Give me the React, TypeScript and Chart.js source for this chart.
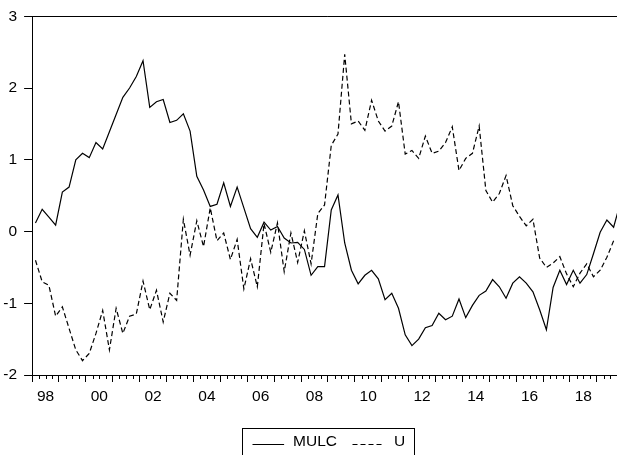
import React, { useEffect, useRef } from "react";
import { Chart, registerables } from "chart.js";

Chart.register(...registerables);

const startYear = 1998;

const mulc = [
  0.12, 0.31, 0.20, 0.09, 0.55, 0.62, 1.00, 1.09, 1.03, 1.24, 1.15, 1.39,
  1.63, 1.87, 2.00, 2.16, 2.38, 1.73, 1.81, 1.84, 1.52, 1.55, 1.64, 1.40,
  0.77, 0.58, 0.35, 0.38, 0.68, 0.35, 0.62, 0.33, 0.04, -0.08, 0.13, 0.02,
  0.07, -0.09, -0.16, -0.15, -0.25, -0.61, -0.49, -0.49, 0.30, 0.51, -0.16, -0.54,
  -0.73, -0.61, -0.54, -0.66, -0.95, -0.86, -1.07, -1.44, -1.59, -1.50, -1.34, -1.31,
  -1.14, -1.23, -1.18, -0.94, -1.20, -1.03, -0.89, -0.83, -0.67, -0.77, -0.93, -0.72,
  -0.63, -0.72, -0.84, -1.09, -1.37, -0.78, -0.54, -0.74, -0.54, -0.72, -0.60, -0.31,
  -0.01, 0.16, 0.06, 0.40,
];

const u = [
  -0.40, -0.70, -0.75, -1.18, -1.05, -1.35, -1.65, -1.80, -1.70, -1.42, -1.10, -1.65,
  -1.07, -1.42, -1.18, -1.15, -0.69, -1.09, -0.82, -1.26, -0.86, -0.96, 0.17, -0.33,
  0.15, -0.21, 0.33, -0.13, -0.02, -0.39, -0.11, -0.80, -0.38, -0.77, 0.11, -0.29,
  0.12, -0.56, -0.02, -0.43, 0.01, -0.45, 0.25, 0.37, 1.20, 1.36, 2.47, 1.50,
  1.54, 1.41, 1.83, 1.54, 1.40, 1.47, 1.81, 1.08, 1.13, 1.02, 1.33, 1.09,
  1.12, 1.24, 1.46, 0.85, 1.02, 1.09, 1.47, 0.57, 0.41, 0.53, 0.78, 0.36,
  0.21, 0.08, 0.17, -0.37, -0.50, -0.44, -0.35, -0.59, -0.77, -0.58, -0.45, -0.63,
  -0.54, -0.36, -0.13, null,
];

const xTickYears = [1998, 2000, 2002, 2004, 2006, 2008, 2010, 2012, 2014, 2016, 2018];
const xTickLabels = ["98", "00", "02", "04", "06", "08", "10", "12", "14", "16", "18"];
const yTicks = [-2, -1, 0, 1, 2, 3];
const seriesNames = ["MULC", "U"];

const FONT = '"Liberation Sans", Arial, sans-serif';
const FS = 15.5;

const qx = mulc.map((_, i) => startYear + i / 4 + 0.125);

const decorPlugin = {
  id: "decor",
  afterDraw(chart: any) {
    const { ctx, chartArea: a } = chart;
    const x = chart.scales.x;
    ctx.save();
    ctx.strokeStyle = "#000";
    ctx.lineWidth = 1;
    // top border
    ctx.beginPath();
    ctx.moveTo(a.left, Math.round(a.top) + 0.5);
    ctx.lineTo(a.right, Math.round(a.top) + 0.5);
    ctx.stroke();
    // minor quarter ticks
    ctx.beginPath();
    for (const t of x.ticks) {
      if (t.value % 1 !== 0) {
        const px = Math.round(x.getPixelForValue(t.value)) + 0.5;
        ctx.moveTo(px, a.bottom);
        ctx.lineTo(px, a.bottom + 4);
      }
    }
    ctx.stroke();
    // legend
    const cx = (a.left + a.right) / 2;
    const w = 171.6;
    const left = Math.round(cx - w / 2) + 0.5;
    const top = 428.5;
    ctx.strokeRect(left, top, Math.round(w), 30);
    const ly = 444.5;
    ctx.lineWidth = 1.2;
    ctx.beginPath();
    ctx.moveTo(left + 10, ly);
    ctx.lineTo(left + 41.6, ly);
    ctx.stroke();
    ctx.setLineDash([5, 3]);
    ctx.beginPath();
    ctx.moveTo(left + 110, ly);
    ctx.lineTo(left + 140.6, ly);
    ctx.stroke();
    ctx.setLineDash([]);
    ctx.fillStyle = "#000";
    ctx.font = `${FS}px ${FONT}`;
    ctx.textBaseline = "middle";
    ctx.textAlign = "left";
    ctx.fillText(seriesNames[0], left + 50.6, 442);
    ctx.fillText(seriesNames[1], left + 151.6, 442);
    ctx.restore();
  },
};

export default function App() {
  const ref = useRef<HTMLCanvasElement>(null);
  useEffect(() => {
    const canvas = ref.current!;
    const chart = new Chart(canvas, {
      type: "line",
      data: {
        datasets: [
          {
            label: seriesNames[0],
            data: mulc.map((v, i) => ({ x: qx[i], y: v })),
            borderColor: "#000",
            borderWidth: 1.2,
            pointRadius: 0,
            tension: 0,
            fill: false,
          },
          {
            label: seriesNames[1],
            data: u.map((v, i) => ({ x: qx[i], y: v })),
            borderColor: "#000",
            borderWidth: 1.2,
            borderDash: [5, 3],
            pointRadius: 0,
            tension: 0,
            fill: false,
          },
        ],
      },
      options: {
        animation: false,
        responsive: false,
        devicePixelRatio: 1,
        layout: { padding: { top: 15, right: 16.3, bottom: 50, left: 0 } },
        plugins: { legend: { display: false }, tooltip: { enabled: false } },
        scales: {
          x: {
            type: "linear",
            min: 1998,
            max: 2020,
            afterBuildTicks: (scale: any) => {
              const ticks = [];
              for (let k = 0; k <= (2020 - 1998) * 4; k++) ticks.push({ value: 1998 + k / 4 });
              scale.ticks = ticks;
            },
            afterFit: (scale: any) => {
              scale.height = 30;
            },
            ticks: {
              autoSkip: false,
              maxRotation: 0,
              minRotation: 0,
              padding: 5,
              color: "#000",
              font: { family: FONT, size: FS },
              callback: (value: any) => {
                const v = Number(value);
                if (v % 1 === 0.5) {
                  const idx = xTickYears.indexOf(Math.floor(v));
                  return idx >= 0 ? xTickLabels[idx] : "";
                }
                return "";
              },
            },
            grid: {
              drawOnChartArea: false,
              drawTicks: true,
              tickLength: 7,
              tickColor: (c: any) => (c.tick && c.tick.value % 1 === 0 ? "#000" : "rgba(0,0,0,0)"),
              tickWidth: 1,
            },
            border: { display: true, color: "#000", width: 1 },
          },
          y: {
            type: "linear",
            min: -2,
            max: 3,
            afterBuildTicks: (scale: any) => {
              scale.ticks = yTicks.map((v) => ({ value: v }));
            },
            afterFit: (scale: any) => {
              scale.width = 32.1;
            },
            ticks: {
              padding: 7,
              color: "#000",
              font: { family: FONT, size: FS },
              callback: (value: any) => String(value),
            },
            grid: {
              drawOnChartArea: false,
              drawTicks: true,
              tickLength: 8,
              tickColor: "#000",
              tickWidth: 1,
            },
            border: { display: true, color: "#000", width: 1 },
          },
        },
      },
      plugins: [decorPlugin],
    });
    return () => chart.destroy();
  }, []);
  return (
    <div
      style={{
        position: "fixed",
        left: 0,
        top: 0,
        width: 617,
        height: 455,
        overflow: "hidden",
        background: "#fff",
      }}
    >
      <canvas ref={ref} width={640} height={455} style={{ display: "block", width: 640, height: 455 }} />
    </div>
  );
}
